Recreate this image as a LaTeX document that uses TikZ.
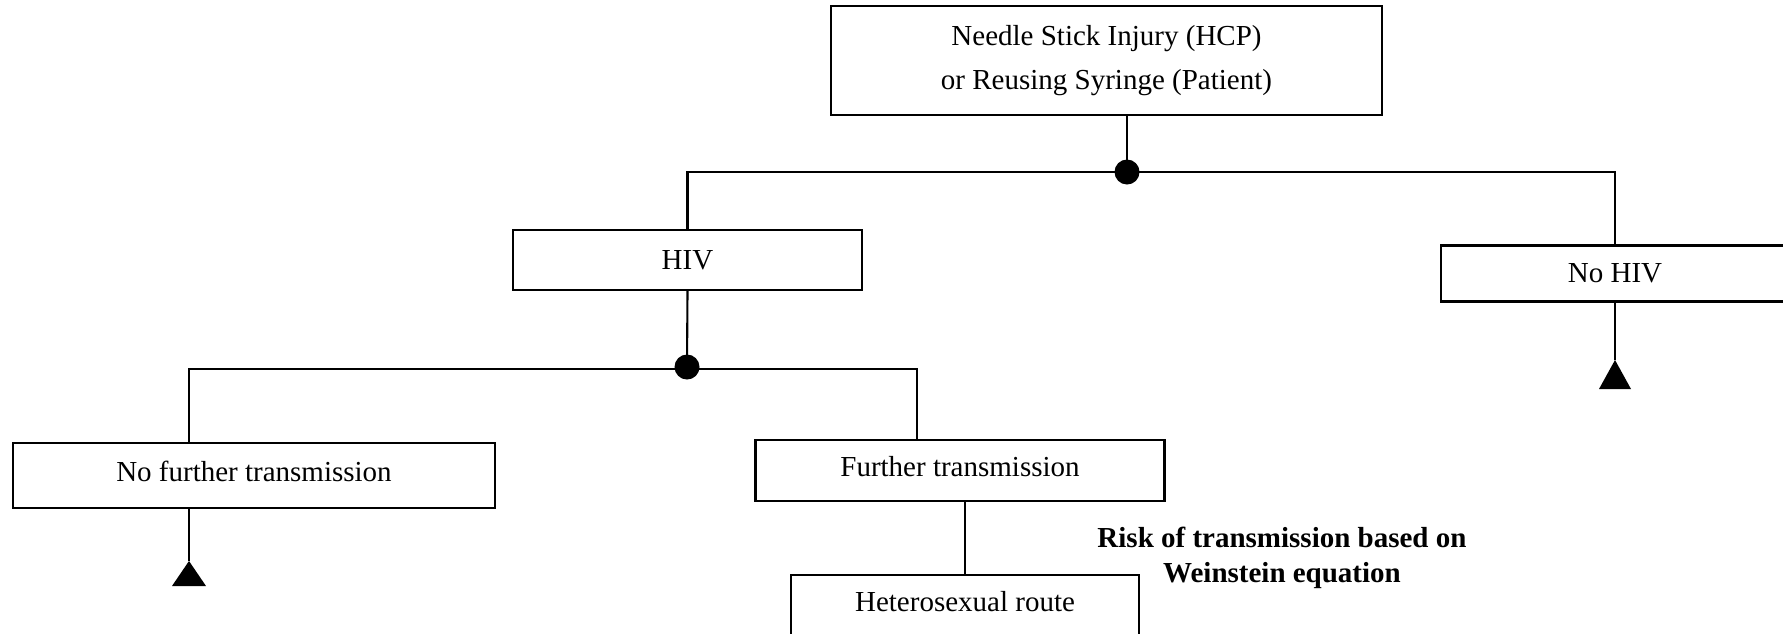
\documentclass[tikz,border=0pt]{standalone}
\usepackage{fontspec}
\setmainfont{Liberation Serif}
\begin{document}
\begin{tikzpicture}[x=1pt,y=-1pt,
  box/.style={draw, line width=2.3pt, rectangle, inner sep=0pt, align=center,
              font=\fontsize{29}{44}\selectfont},
  raised/.style={text depth=8pt},
  conn/.style={line width=2.1pt},
  junction/.style={circle, fill=black, inner sep=0pt, minimum size=25pt},
  note/.style={align=center, font=\fontsize{29}{35}\selectfont\bfseries},
  leaf/.style={fill=black}
]
\clip (0,0) rectangle (1783,633);

% decision boxes
\node[box, minimum width=551pt, minimum height=109pt] (top) at (1106.5,60.5)
  {Needle Stick Injury (HCP)\\or Reusing Syringe (Patient)};
\node[box, minimum width=349pt, minimum height=60pt] (hiv) at (687.5,260) {HIV};
\node[box, minimum width=348pt, minimum height=56pt] (nohiv) at (1615,273.5) {No HIV};
\node[box, raised, minimum width=482pt, minimum height=65pt] (nft) at (254,475.5) {No further transmission};
\node[box, raised, minimum width=409pt, minimum height=61pt] (ft) at (960,470.5) {Further transmission};
\node[box, raised, minimum width=348pt, minimum height=61pt] (hr) at (965,605.5) {Heterosexual route};

\node[note] (risk) at (1282,558) {Risk of transmission based on\\Weinstein equation};

% chance nodes
\node[junction] (j1) at (1127,172) {};
\node[junction] (j2) at (687,367) {};

% branch points
\coordinate (b1) at (189,369);
\coordinate (b2) at (917,369);
\coordinate (t1) at (189,561);
\coordinate (t2) at (1615,360);

% connectors
\draw[conn] (j1 |- top.south) -- (j1.center);
\draw[conn] (hiv.north) |- (j1.center) -| (nohiv.north);
\draw[conn] (hiv.south) -- (j2.center);
\draw[conn] (b1 |- nft.north) -- (b1) -- (b2) -- (b2 |- ft.north);
\draw[conn] (hr.north) -- (hr.north |- ft.south);
\draw[conn] (t1 |- nft.south) -- (t1);
\draw[conn] (nohiv.south) -- (t2);

% terminal triangles
\fill[leaf] (t1) -- ++(-17,25) -- ++(34,0) -- cycle;
\fill[leaf] (t2) -- ++(-16,29) -- ++(32,0) -- cycle;
\end{tikzpicture}
\end{document}
